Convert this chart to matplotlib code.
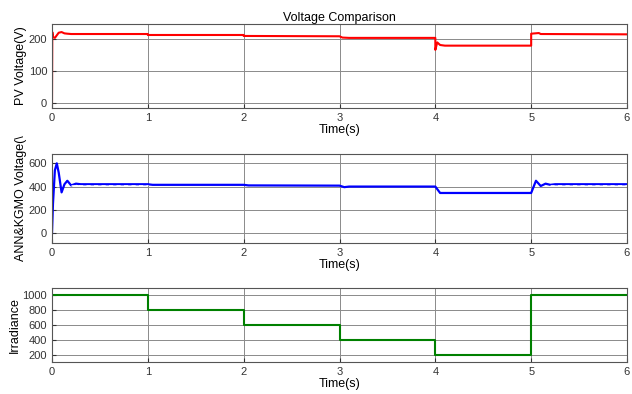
import matplotlib
matplotlib.use("Agg")
import matplotlib.pyplot as plt
import numpy as np

plt.rcParams['font.family'] = ['Liberation Sans', 'DejaVu Sans']

# PV voltage waypoints
pv_t = [0, 0.003, 0.01, 0.03, 0.05, 0.07, 0.1, 0.13, 0.16, 0.2, 1.0, 1.0, 2.0, 2.0, 3.0, 3.03, 3.1, 4.0, 4.0, 4.02, 4.05, 4.1, 5.0, 5.0, 5.08, 5.1, 6.0]
pv_v = [0, 220, 205, 202, 210, 218, 220, 216, 215, 214, 214, 211, 211, 208, 207, 203, 202, 202, 165, 188, 180, 178, 178, 215, 217, 214, 213]

# ANN&KGMO voltage waypoints
ann_t = [0, 0.01, 0.03, 0.05, 0.07, 0.1, 0.13, 0.16, 0.2, 0.25, 0.3, 1.0, 1.05, 2.0, 2.05, 3.0, 3.05, 3.1, 4.0, 4.05, 5.0, 5.05, 5.1, 5.15, 5.2, 5.25, 6.0]
ann_v = [0, 250, 540, 600, 520, 350, 420, 450, 410, 425, 420, 420, 415, 415, 410, 408, 395, 400, 400, 345, 345, 450, 405, 425, 415, 420, 420]
ref_t = [0.2, 1.0, np.nan, 5.2, 6.0]
ref_v = [416, 416, np.nan, 416, 416]

# Irradiance
irr_t = [0, 1, 1, 2, 2, 3, 3, 4, 4, 5, 5, 6]
irr_v = [1000, 1000, 800, 800, 600, 600, 400, 400, 200, 200, 1000, 1000]

fig = plt.figure(figsize=(6.32, 3.94), dpi=100)

def style(ax, ylim, yticks, ylabel):
    ax.set_xlim(0, 6)
    ax.set_ylim(*ylim)
    ax.set_yticks(yticks)
    ax.set_xticks(range(7))
    ax.grid(True, color='#8a8a8a', linewidth=0.7)
    ax.tick_params(labelsize=8, colors='#333333', direction='in', length=3)
    for s in ax.spines.values():
        s.set_color('#555555')
        s.set_linewidth(0.8)
    ax.set_ylabel(ylabel, fontsize=9, labelpad=1)
    ax.set_xlabel('Time(s)', fontsize=9, labelpad=1)

def rect(x0, y0, x1, y1):
    return [x0 / 632, 1 - y1 / 394, (x1 - x0) / 632, (y1 - y0) / 394]

ax1 = fig.add_axes(rect(52, 24, 627, 108))
ax1.plot(pv_t, pv_v, color='#ff0000', linewidth=1.5)
style(ax1, (-15, 245), [0, 100, 200], 'PV Voltage(V)')
ax1.set_title('Voltage Comparison', fontsize=9, pad=2)

ax2 = fig.add_axes(rect(52, 154, 627, 243))
ax2.plot(ann_t, ann_v, color='#0000ff', linewidth=1.6)
ax2.plot(ref_t, ref_v, color='white', linewidth=0.6, linestyle=(0, (5, 4)))
style(ax2, (-85, 680), [0, 200, 400, 600], 'ANN&KGMO Voltage(\\')

ax3 = fig.add_axes(rect(52, 288, 627, 362))
ax3.plot(irr_t, irr_v, color='#008000', linewidth=1.5)
style(ax3, (100, 1100), [200, 400, 600, 800, 1000], 'Irradiance')

fig.savefig('out.png', dpi=100)
